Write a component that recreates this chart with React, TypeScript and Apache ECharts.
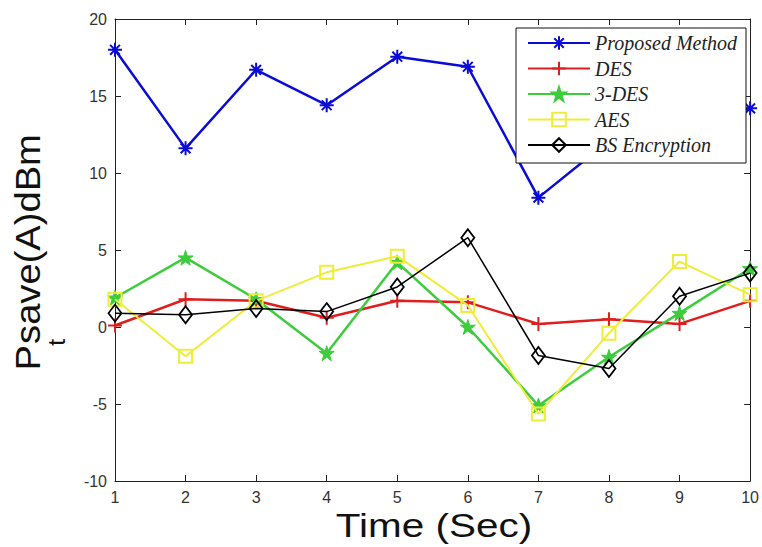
import React, { useEffect, useRef } from "react";
import * as echarts from "echarts";

const timeSec = [1, 2, 3, 4, 5, 6, 7, 8, 9, 10];
const proposedMethod = [18.0, 11.6, 16.7, 14.4, 17.55, 16.9, 8.4, 12.1, 13.0, 14.2];
const desValues = [0.1, 1.8, 1.7, 0.6, 1.7, 1.6, 0.2, 0.5, 0.2, 1.7];
const tripleDesValues = [1.9, 4.5, 1.8, -1.7, 4.2, 0.0, -5.1, -1.95, 0.9, 3.8];
const aesValues = [1.8, -1.9, 1.7, 3.55, 4.6, 1.4, -5.65, -0.4, 4.25, 2.1];
const bsEncryption = [0.9, 0.8, 1.2, 1.0, 2.6, 5.8, -1.85, -2.7, 2.0, 3.5];
const seriesNames = ["Proposed Method", "DES", "3-DES", "AES", "BS Encryption"];
const xAxisTitle = "Time (Sec)";
const yAxisTitleMain = "P";
const yAxisTitleSub = "t";
const yAxisTitleRest = "save(A)dBm";

const ASTERISK = "path://M5,0L5,10M0,5L10,5M1.5,1.5L8.5,8.5M8.5,1.5L1.5,8.5";
const PLUS = "path://M5,0L5,10M0,5L10,5";
const STAR =
  "path://M0,-10L2.25,-3.09L9.51,-3.09L3.63,1.18L5.88,8.09L0,3.82L-5.88,8.09L-3.63,1.18L-9.51,-3.09L-2.25,-3.09Z";

const pairs = (vals: number[]) => timeSec.map((x, i) => [x, vals[i]]);

export default function App() {
  const ref = useRef<HTMLDivElement>(null);
  useEffect(() => {
    if (!ref.current) return;
    const chart = echarts.init(ref.current, undefined, { renderer: "svg" });
    const axisLine = { show: true, onZero: false, lineStyle: { color: "#222", width: 1 } };
    const tick = { show: true, inside: true, length: 6, lineStyle: { color: "#222", width: 1 } };
    const labelStyle = { fontFamily: "Liberation Sans", fontSize: 16, color: "#333" };
    const mk = (
      name: string,
      vals: number[],
      color: string,
      width: number,
      symbol: string,
      symbolSize: any,
      fill: string,
      borderWidth: number,
      z: number
    ) => ({
      type: "line",
      name,
      data: pairs(vals),
      color,
      symbol,
      symbolSize,
      z,
      lineStyle: { color, width },
      itemStyle: { color: fill, borderColor: color, borderWidth },
      emphasis: { disabled: true },
    });
    chart.setOption({
      animation: false,
      backgroundColor: "#ffffff",
      grid: { left: 115, right: 7, top: 19, bottom: 66, containLabel: false },
      xAxis: [
        {
          type: "value",
          min: 1,
          max: 10,
          interval: 1,
          position: "bottom",
          axisLine,
          axisTick: tick,
          splitLine: { show: false },
          axisLabel: { ...labelStyle, margin: 8 },
        },
        {
          type: "value",
          min: 1,
          max: 10,
          interval: 1,
          position: "top",
          axisLine,
          axisTick: tick,
          splitLine: { show: false },
          axisLabel: { show: false },
        },
      ],
      yAxis: [
        {
          type: "value",
          min: -10,
          max: 20,
          interval: 5,
          position: "left",
          axisLine,
          axisTick: tick,
          splitLine: { show: false },
          axisLabel: { ...labelStyle, margin: 8 },
        },
        {
          type: "value",
          min: -10,
          max: 20,
          interval: 5,
          position: "right",
          axisLine,
          axisTick: tick,
          splitLine: { show: false },
          axisLabel: { show: false },
        },
      ],
      legend: {
        orient: "vertical",
        left: 516,
        top: 28,
        padding: [5, 9, 8, 11],
        itemWidth: 62,
        itemHeight: 17,
        itemGap: 5.5,
        backgroundColor: "#ffffff",
        borderColor: "#111",
        borderWidth: 1,
        borderRadius: 0,
        data: seriesNames,
        textStyle: {
          fontFamily: "Liberation Serif",
          fontStyle: "italic",
          fontSize: 20,
          lineHeight: 20,
          color: "#222",
        },
      },
      series: [
        mk(seriesNames[0], proposedMethod, "#0b0bd6", 2.5, ASTERISK, 14, "#0b0bd6", 2, 2),
        mk(seriesNames[1], desValues, "#dd1f1f", 2.5, PLUS, 14, "#dd1f1f", 2, 3),
        mk(seriesNames[2], tripleDesValues, "#3ccc3c", 2.5, STAR, 15, "#3ccc3c", 1, 4),
        mk(seriesNames[3], aesValues, "#eded3a", 2, "rect", 13, "rgba(255,255,255,0)", 2, 5),
        mk(seriesNames[4], bsEncryption, "#000000", 1.5, "diamond", [13, 17], "rgba(255,255,255,0)", 1.8, 6),
      ],
      graphic: [
        {
          type: "text",
          x: 434,
          y: 525,
          scaleX: 1.19,
          style: {
            text: xAxisTitle,
            fontFamily: "Liberation Sans",
            fontSize: 34,
            fill: "#111",
            align: "center",
            verticalAlign: "middle",
          },
        },
        {
          type: "group",
          x: 40,
          y: 345,
          rotation: Math.PI / 2,
          scaleX: 1.09,
          children: [
            {
              type: "text",
              x: 0,
              y: -12.1,
              style: {
                text: yAxisTitleMain,
                fontFamily: "Liberation Sans",
                fontSize: 35,
                fill: "#111",
                align: "right",
                verticalAlign: "middle",
              },
            },
            {
              type: "text",
              x: -1,
              y: 16.7,
              style: {
                text: yAxisTitleSub,
                fontFamily: "Liberation Sans",
                fontSize: 24,
                fill: "#111",
                align: "left",
                verticalAlign: "middle",
              },
            },
            {
              type: "text",
              x: 1,
              y: -12.1,
              style: {
                text: yAxisTitleRest,
                fontFamily: "Liberation Sans",
                fontSize: 35,
                fill: "#111",
                align: "left",
                verticalAlign: "middle",
              },
            },
          ],
        },
      ],
    });
    return () => chart.dispose();
  }, []);
  return (
    <div
      ref={ref}
      style={{ position: "fixed", left: 0, top: 0, width: 762, height: 547, background: "#fff" }}
    />
  );
}
